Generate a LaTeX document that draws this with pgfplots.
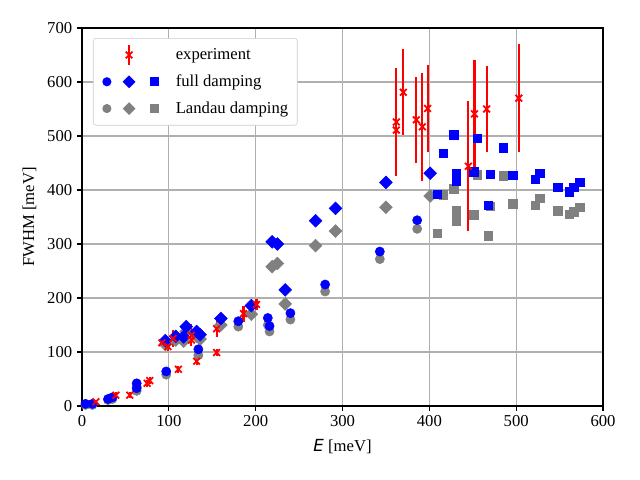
\documentclass[border=0pt]{standalone}
\usepackage{fontspec}
\setmainfont{Liberation Serif}
\newfontfamily\dejavu{DejaVu Sans}
\usepackage{pgfplots}
\pgfplotsset{compat=1.18}
\usepackage{pgfplotstable}

\definecolor{mblue}{RGB}{0,0,255}
\definecolor{mgray}{RGB}{128,128,128}
\definecolor{mred}{RGB}{255,0,0}
\definecolor{gridc}{RGB}{176,176,176}
\definecolor{legc}{RGB}{204,204,204}

\pgfplotstableread{
E W
4 4
12 4
30 13
35 16
63 42
63 33
97 64
134 105
180 157
214 163
216 148
240 172
280 225
343 286
386 344
}\fullcirc
\pgfplotstableread{
E W
4 2
12 2
30 11
35 13
63 36
63 28
97 58
134 94
180 147
214 150
216 138
240 160
280 212
343 272
386 328
}\landcirc
\pgfplotstableread{
E W
96 121
108 129
120 147
117 128
132 138
136 132
160 162
195 186
219 304
225 300
234 215
269 343
292 366
350 414
401 431
}\fulldiam
\pgfplotstableread{
E W
96 114
108 122
120 138
117 120
132 129
136 124
160 150
195 170
219 258
225 264
234 189
269 297
292 324
350 368
401 389
}\landdiam
\pgfplotstableread{
E W
409 392
416 468
428 502
431 430
431 417
451 434
455 496
468 372
470 429
485 478
496 427
522 420
527 431
548 405
561 397
566 405
573 414
}\fullsq
\pgfplotstableread{
E W
409 320
416 391
428 402
431 362
431 343
451 354
455 428
468 315
470 370
485 426
496 375
522 372
527 385
548 362
561 355
566 360
573 368
}\landsq
\pgfplotstableread{
E W err
16 8 4
39 20 6
55 20 6
75 42 7
78 47 7
92 117 5
99 110 8
105 125 15
111 68 7
126 131 20
126 122 10
132 83 7
155 143 16
155 99 7
186 171 15
201 188 10
362 526 100
362 511 80
370 581 80
385 530 80
392 517 100
398 551 80
445 444 120
452 541 100
466 550 80
503 570 100
}\expt

\begin{document}
\begin{tikzpicture}
\useasboundingbox (-59.04pt,-53.28pt) rectangle (401.76pt,292.32pt);
\begin{axis}[
  scale only axis, width=375.12pt, height=272.16pt,
  at={(0pt,0pt)}, anchor=south west,
  xmin=0, xmax=600, ymin=0, ymax=700,
  xtick={0,100,...,600}, ytick={0,100,...,700},
  grid=major, major grid style={gridc, line width=0.8pt},
  axis line style={line width=0.8pt},
  tick align=outside, major tick length=3.5pt,
  tick style={black, line width=0.8pt},
  xtick pos=bottom, ytick pos=left,
  tick label style={font=\fontsize{12}{14}\selectfont},
  /pgf/number format/assume math mode=true,
  xlabel={{\dejavu\itshape E} [meV]},
  ylabel={FWHM [meV]},
  label style={font=\fontsize{12}{14}\selectfont},
  xlabel style={at={(axis description cs:0.5,-0.1084)}, anchor=center},
  ylabel style={at={(axis description cs:-0.1008,0.5)}, anchor=center},
  legend style={at={(axis description cs:0,1)}, anchor=north west,
    xshift=7.92pt, yshift=-7.2pt, draw=legc, rounded corners=2pt,
    fill=white, inner xsep=6.5pt, inner ysep=2.35pt,
    row sep=0pt, column sep=0pt,
    font=\fontsize{12}{14}\selectfont,
    cells={anchor=west}, nodes={inner sep=0pt, draw=none, fill=none}},
]
\addplot[only marks, mark=*, mark size=3.3pt, mgray, forget plot] table[x=E,y=W] {\landcirc};
\addplot[only marks, mark=square*, mark size=3.25pt, mark options={rotate=45}, mgray, forget plot] table[x=E,y=W] {\landdiam};
\addplot[only marks, mark=square*, mark size=3.1pt, mgray, forget plot] table[x=E,y=W] {\landsq};
\addplot[only marks, mark=*, mark size=3.3pt, mblue, forget plot] table[x=E,y=W] {\fullcirc};
\addplot[only marks, mark=square*, mark size=3.25pt, mark options={rotate=45}, mblue, forget plot] table[x=E,y=W] {\fulldiam};
\addplot[only marks, mark=square*, mark size=3.1pt, mblue, forget plot] table[x=E,y=W] {\fullsq};
\addplot[forget plot, only marks, mark=x, mark size=3.4pt, mred, mark options={line width=1.3pt},
  error bars/.cd, y dir=both, y explicit, error mark=none,
  error bar style={line width=1.5pt, mred}]
  table[x=E, y=W, y error=err] {\expt};

\addlegendimage{legend image code/.code={
  \path[draw=none, fill=none] (0pt,-9.65pt) rectangle (52.5pt,9.65pt);
  \draw[sharp corners, fill=none, mred, line width=1.5pt] (18.9pt,-7.2pt) -- (18.9pt,7.2pt);
  \draw[sharp corners, fill=none, mred, line width=1.3pt] (16.5pt,-2.4pt) -- (21.3pt,2.4pt) (16.5pt,2.4pt) -- (21.3pt,-2.4pt);
}}
\addlegendentry{experiment}
\addlegendimage{legend image code/.code={
  \path[draw=none, fill=none] (0pt,-9.65pt) rectangle (52.5pt,9.65pt);
  \path[sharp corners, draw=none, fill=mblue] (2.9pt,0pt) circle[radius=3.3pt];
  \path[sharp corners, draw=none, fill=mblue] (18.9pt,4.6pt) -- (23.5pt,0pt) -- (18.9pt,-4.6pt) -- (14.3pt,0pt) -- cycle;
  \path[sharp corners, draw=none, fill=mblue] (34.1pt,-3.1pt) rectangle (40.3pt,3.1pt);
}}
\addlegendentry{full damping}
\addlegendimage{legend image code/.code={
  \path[draw=none, fill=none] (0pt,-9.65pt) rectangle (52.5pt,9.65pt);
  \path[sharp corners, draw=none, fill=mgray] (2.9pt,0pt) circle[radius=3.3pt];
  \path[sharp corners, draw=none, fill=mgray] (18.9pt,4.6pt) -- (23.5pt,0pt) -- (18.9pt,-4.6pt) -- (14.3pt,0pt) -- cycle;
  \path[sharp corners, draw=none, fill=mgray] (34.1pt,-3.1pt) rectangle (40.3pt,3.1pt);
}}
\addlegendentry{Landau damping}
\end{axis}
\end{tikzpicture}
\end{document}
